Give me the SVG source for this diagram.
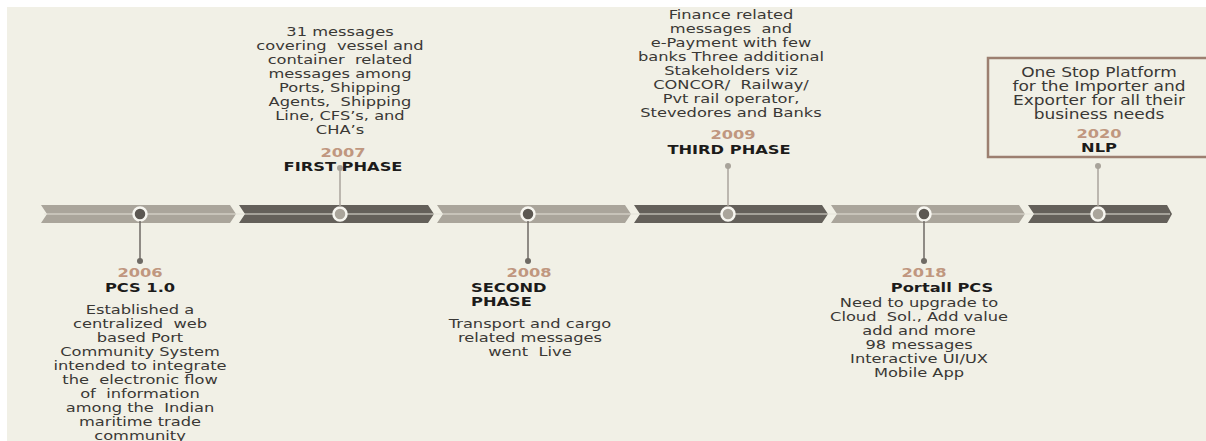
<svg xmlns="http://www.w3.org/2000/svg" width="1206" height="441" viewBox="0 0 1206 441">
<defs>
<style>
text{font-family:"DejaVu Sans",Verdana,sans-serif;text-anchor:middle;white-space:pre}
.b{font-size:13px;fill:#3a3835}
.bx{font-size:13.6px;fill:#3a3835}
.yr{font-size:13px;font-weight:bold;fill:#c0977f}
.tt{font-size:13px;font-weight:bold;fill:#1c1b1a}
.lt{fill:#aaa59b}
.dk{fill:#64605a}
.cl{fill:#5c5852;stroke:#f7f6f0;stroke-width:2.5}
.cd{fill:#aaa59b;stroke:#f7f6f0;stroke-width:2.5}
.dn{stroke:#6e6a64;stroke-width:1.5;fill:none}
.up{stroke:#aaa59c;stroke-width:1.5;fill:none}
.dnd{fill:#6e6a64}
.upd{fill:#a8a39a}
</style>
</defs>
<rect x="0" y="0" width="1206" height="441" fill="#ffffff"/>
<rect x="7" y="7" width="1199" height="434" fill="#f1f0e6"/>

<g id="timeline">
<polygon class="lt" points="41,205 230,205 236,214 230,223 41,223 47,214"/>
<polygon class="dk" points="239,205 428,205 434,214 428,223 239,223 245,214"/>
<polygon class="lt" points="437,205 625,205 631,214 625,223 437,223 443,214"/>
<polygon class="dk" points="634,205 822,205 828,214 822,223 634,223 640,214"/>
<polygon class="lt" points="831,205 1019,205 1025,214 1019,223 831,223 837,214"/>
<polygon class="dk" points="1028,205 1167,205 1172,214 1167,223 1028,223 1034,214"/>
<line x1="44" y1="214" x2="1170" y2="214" stroke="#e4e1d8" stroke-width="1.2"/>
</g>

<g id="node-2006">
<circle class="cl" cx="140" cy="214" r="6.5"/>
<g transform="translate(140 0) scale(1.25 1)">
<text class="yr" x="0" y="277">2006</text>
<text class="tt" x="0" y="292">PCS 1.0</text>
<text class="b" x="0" y="314">Established a</text>
<text class="b" x="0" y="328">centralized  web</text>
<text class="b" x="0" y="342">based Port</text>
<text class="b" x="0" y="356">Community System</text>
<text class="b" x="0" y="370">intended to integrate</text>
<text class="b" x="0" y="384">the  electronic flow</text>
<text class="b" x="0" y="398">of  information</text>
<text class="b" x="0" y="412">among the  Indian</text>
<text class="b" x="0" y="426">maritime trade</text>
<text class="b" x="0" y="440">community</text>
</g>
</g>

<g id="node-2007">
<circle class="cd" cx="340" cy="214" r="6.5"/>
<g transform="translate(340 0) scale(1.25 1)">
<text class="b" x="0" y="36">31 messages</text>
<text class="b" x="0" y="50">covering  vessel and</text>
<text class="b" x="0" y="64">container  related</text>
<text class="b" x="0" y="78">messages among</text>
<text class="b" x="0" y="92">Ports, Shipping</text>
<text class="b" x="0" y="106">Agents,  Shipping</text>
<text class="b" x="0" y="120">Line, CFS’s, and</text>
<text class="b" x="0" y="134">CHA’s</text>
<text class="yr" x="2.4" y="157">2007</text>
<text class="tt" x="2.4" y="171">FIRST PHASE</text>
</g>
</g>

<g id="node-2008">
<circle class="cl" cx="528" cy="214" r="6.5"/>
<g transform="translate(529 0) scale(1.25 1)">
<text class="yr" x="0" y="277">2008</text>
<text class="tt" x="-46.4" y="292" style="text-anchor:start">SECOND</text>
<text class="tt" x="-46.4" y="306" style="text-anchor:start">PHASE</text>
<text class="b" x="0.8" y="328">Transport and cargo</text>
<text class="b" x="0.8" y="342">related messages</text>
<text class="b" x="0.8" y="356">went  Live</text>
</g>
</g>

<g id="node-2009">
<circle class="cd" cx="728" cy="214" r="6.5"/>
<g transform="translate(731 0) scale(1.25 1)">
<text class="b" x="0" y="19">Finance related</text>
<text class="b" x="0" y="33">messages  and</text>
<text class="b" x="0" y="47">e-Payment with few</text>
<text class="b" x="0" y="61">banks Three additional</text>
<text class="b" x="0" y="75">Stakeholders viz</text>
<text class="b" x="0" y="89">CONCOR/  Railway/</text>
<text class="b" x="0" y="103">Pvt rail operator,</text>
<text class="b" x="0" y="117">Stevedores and Banks</text>
<text class="yr" x="1.6" y="139">2009</text>
<text class="tt" x="-1.6" y="154">THIRD PHASE</text>
</g>
</g>

<g id="node-2018">
<circle class="cl" cx="924" cy="214" r="6.5"/>
<g transform="translate(924 0) scale(1.25 1)">
<text class="yr" x="0" y="277">2018</text>
<text class="tt" x="14.4" y="292">Portall PCS</text>
<text class="b" x="-4" y="307">Need to upgrade to</text>
<text class="b" x="-4" y="321">Cloud  Sol., Add value</text>
<text class="b" x="-4" y="335">add and more</text>
<text class="b" x="-4" y="349">98 messages</text>
<text class="b" x="-4" y="363">Interactive UI/UX</text>
<text class="b" x="-4" y="377">Mobile App</text>
</g>
</g>

<g id="node-2020">
<rect x="988" y="58" width="222" height="99" fill="#f1f0e6" stroke="#9c7f70" stroke-width="2.5"/>
<circle class="cd" cx="1098" cy="214" r="6.5"/>
<g transform="translate(1099 0) scale(1.25 1)">
<text class="bx" x="0" y="77">One Stop Platform</text>
<text class="bx" x="0" y="91">for the Importer and</text>
<text class="bx" x="0" y="105">Exporter for all their</text>
<text class="bx" x="0" y="119">business needs</text>
<text class="yr" x="0" y="138">2020</text>
<text class="tt" x="0" y="152">NLP</text>
</g>
</g>

<g id="connectors">
<line class="dn" x1="140" y1="221" x2="140" y2="261"/>
<circle class="dnd" cx="140" cy="261" r="3"/>
<line class="up" x1="340" y1="207" x2="340" y2="168"/>
<circle class="upd" cx="340" cy="168" r="3"/>
<line class="dn" x1="528" y1="221" x2="528" y2="261"/>
<circle class="dnd" cx="528" cy="261" r="3"/>
<line class="up" x1="728" y1="207" x2="728" y2="166"/>
<circle class="upd" cx="728" cy="166" r="3"/>
<line class="dn" x1="924" y1="221" x2="924" y2="261"/>
<circle class="dnd" cx="924" cy="261" r="3"/>
<line class="up" x1="1098" y1="207" x2="1098" y2="166"/>
<circle class="upd" cx="1098" cy="166" r="3"/>
</g>
</svg>
